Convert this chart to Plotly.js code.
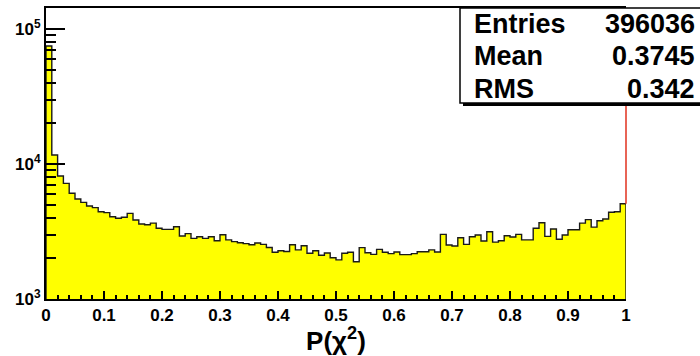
<!DOCTYPE html>
<html>
<head>
<meta charset="utf-8">
<script src="https://cdn.plot.ly/plotly-3.0.1.min.js"></script>
<style>
  html, body { margin: 0; padding: 0; background: #ffffff; }
  #chart { width: 700px; height: 356px; }
</style>
</head>
<body>
<div id="chart"></div>
<script>
// Histogram of P(chi^2): 100 bins on [0, 1]
const binLow = 0;
const binWidth = 0.01;
const counts = [
  74800, 11660, 8150, 7190, 6070, 5510, 5200, 4890, 4750, 4430,
  4360, 4070, 3960, 4030, 4310, 3850, 3590, 3550, 3650, 3340,
  3280, 3280, 3430, 2930, 3050, 2810, 2890, 2810, 2890, 2700,
  2990, 2740, 2660, 2610, 2570, 2520, 2600, 2540, 2410, 2220,
  2280, 2250, 2520, 2310, 2480, 2180, 2280, 2110, 2190, 2020,
  1950, 2180, 2220, 1890, 2400, 2200, 2140, 2330, 2220, 2170,
  2230, 2130, 2130, 2170, 2240, 2240, 2310, 2230, 3010, 2510,
  2470, 2840, 2540, 2890, 2980, 2690, 3150, 2640, 2700, 2940,
  2880, 3010, 2740, 2740, 3340, 3670, 2910, 3300, 2770, 2980,
  3260, 3260, 3650, 3870, 3410, 3800, 3910, 4390, 4430, 5080
];

// Statistics box
const statLabels = ['Entries', 'Mean', 'RMS'];
const statValues = ['396036', '0.3745', '0.342'];

// Axis ticks
const xTickVals = [0, 0.1, 0.2, 0.3, 0.4, 0.5, 0.6, 0.7, 0.8, 0.9, 1];
const xTickText = ['0', '0.1', '0.2', '0.3', '0.4', '0.5', '0.6', '0.7', '0.8', '0.9', '1'];
const yMin = 1e3;
const yMajorVals = [1e3, 1e4, 1e5];
const yMajorText = ['10<sup>3</sup>', '10<sup>4</sup>', '10<sup>5</sup>'];
const xAxisTitle = 'P(χ<sup>2</sup>)';

// log-axis minor ticks: 2..9 x 10^k
const yMinorVals = [];
for (let k = 3; k <= 5; k++) {
  for (let m = 2; m <= 9; m++) yMinorVals.push(m * Math.pow(10, k));
}

const bold = s => '<b>' + s + '</b>';

const nBins = counts.length;
const centers = counts.map((_, i) => binLow + binWidth * (i + 0.5));

// step outline through the bin edges
const edgeX = [binLow];
const edgeY = [yMin];
counts.forEach((c, i) => { edgeX.push(binLow + binWidth * i); edgeY.push(c); });
edgeX.push(binLow + binWidth * nBins); edgeY.push(counts[nBins - 1]);
edgeX.push(binLow + binWidth * nBins); edgeY.push(yMin);

const FONT = 'Liberation Sans, Arial, Helvetica, sans-serif';

const fillTrace = {
  type: 'bar',
  x: centers,
  y: counts,
  width: binWidth,
  marker: { color: '#ffff00', line: { width: 0 } },
  hoverinfo: 'skip',
  showlegend: false
};

const outlineTrace = {
  type: 'scatter',
  mode: 'lines',
  x: edgeX,
  y: edgeY,
  line: { shape: 'hv', color: '#1a1a1a', width: 1.4 },
  hoverinfo: 'skip',
  showlegend: false,
  cliponaxis: false
};

// plot-area geometry (px) used to place the statistics box in paper space
const W = 700, H = 356;
const M = { l: 46, r: 74, t: 8, b: 57 };
const pw = W - M.l - M.r, ph = H - M.t - M.b;
const px = v => (v - M.l) / pw;
const py = v => (H - M.b - v) / ph;
const yRange = [3, 3 + ph / 135];

const statRows = [23.5, 56.5, 88.5];
const annotations = [];
statLabels.forEach((lab, i) => {
  annotations.push({
    xref: 'paper', yref: 'paper', x: px(472), y: py(statRows[i]),
    xanchor: 'left', yanchor: 'middle', showarrow: false,
    text: bold(lab), font: { family: FONT, size: 27, color: '#000' }
  });
  annotations.push({
    xref: 'paper', yref: 'paper', x: px(697), y: py(statRows[i]),
    xanchor: 'right', yanchor: 'middle', showarrow: false,
    text: bold(statValues[i]), font: { family: FONT, size: 27, color: '#000' }
  });
});

const shapes = [
  // right frame edge, above the last bin
  { type: 'line', xref: 'paper', yref: 'y', x0: 1, x1: 1,
    y0: counts[nBins - 1], y1: Math.pow(10, yRange[1]),
    line: { color: '#e0301e', width: 1.5 }, layer: 'above' },
  // stats box shadow
  { type: 'rect', xref: 'paper', yref: 'paper',
    x0: px(463), x1: px(720), y0: py(106), y1: py(11),
    fillcolor: '#000', line: { width: 0 } },
  // stats box
  { type: 'rect', xref: 'paper', yref: 'paper',
    x0: px(460), x1: px(710), y0: py(103), y1: py(8),
    fillcolor: '#fff', line: { color: '#000', width: 1.5 } }
];

const layout = {
  width: W, height: H,
  margin: M,
  paper_bgcolor: '#fff', plot_bgcolor: '#fff',
  bargap: 0,
  font: { family: FONT, color: '#000' },
  showlegend: false,
  xaxis: {
    range: [0, 1],
    tickmode: 'array', tickvals: xTickVals, ticktext: xTickText.map(bold),
    ticks: 'inside', ticklen: 8, tickwidth: 2, tickcolor: '#000',
    minor: { dtick: 0.02, tick0: 0, ticks: 'inside', ticklen: 4, tickwidth: 2, tickcolor: '#000', showgrid: false },
    showgrid: false, zeroline: false,
    showline: true, linecolor: '#000', linewidth: 2, mirror: true,
    tickfont: { family: FONT, size: 17, color: '#000' },
    title: { text: bold(xAxisTitle), font: { family: FONT, size: 26, color: '#000' }, standoff: 4 }
  },
  yaxis: {
    type: 'log',
    range: yRange,
    tickmode: 'array', tickvals: yMajorVals, ticktext: yMajorText.map(bold),
    ticks: 'inside', ticklen: 19, tickwidth: 2, tickcolor: '#000',
    minor: { tickmode: 'array', tickvals: yMinorVals, ticks: 'inside', ticklen: 10, tickwidth: 2, tickcolor: '#000', showgrid: false },
    showgrid: false, zeroline: false,
    showline: true, linecolor: '#000', linewidth: 2,
    tickfont: { family: FONT, size: 17, color: '#000' }
  },
  shapes: shapes,
  annotations: annotations
};

Plotly.newPlot('chart', [fillTrace, outlineTrace], layout, { displayModeBar: false, staticPlot: true });
</script>
</body>
</html>
